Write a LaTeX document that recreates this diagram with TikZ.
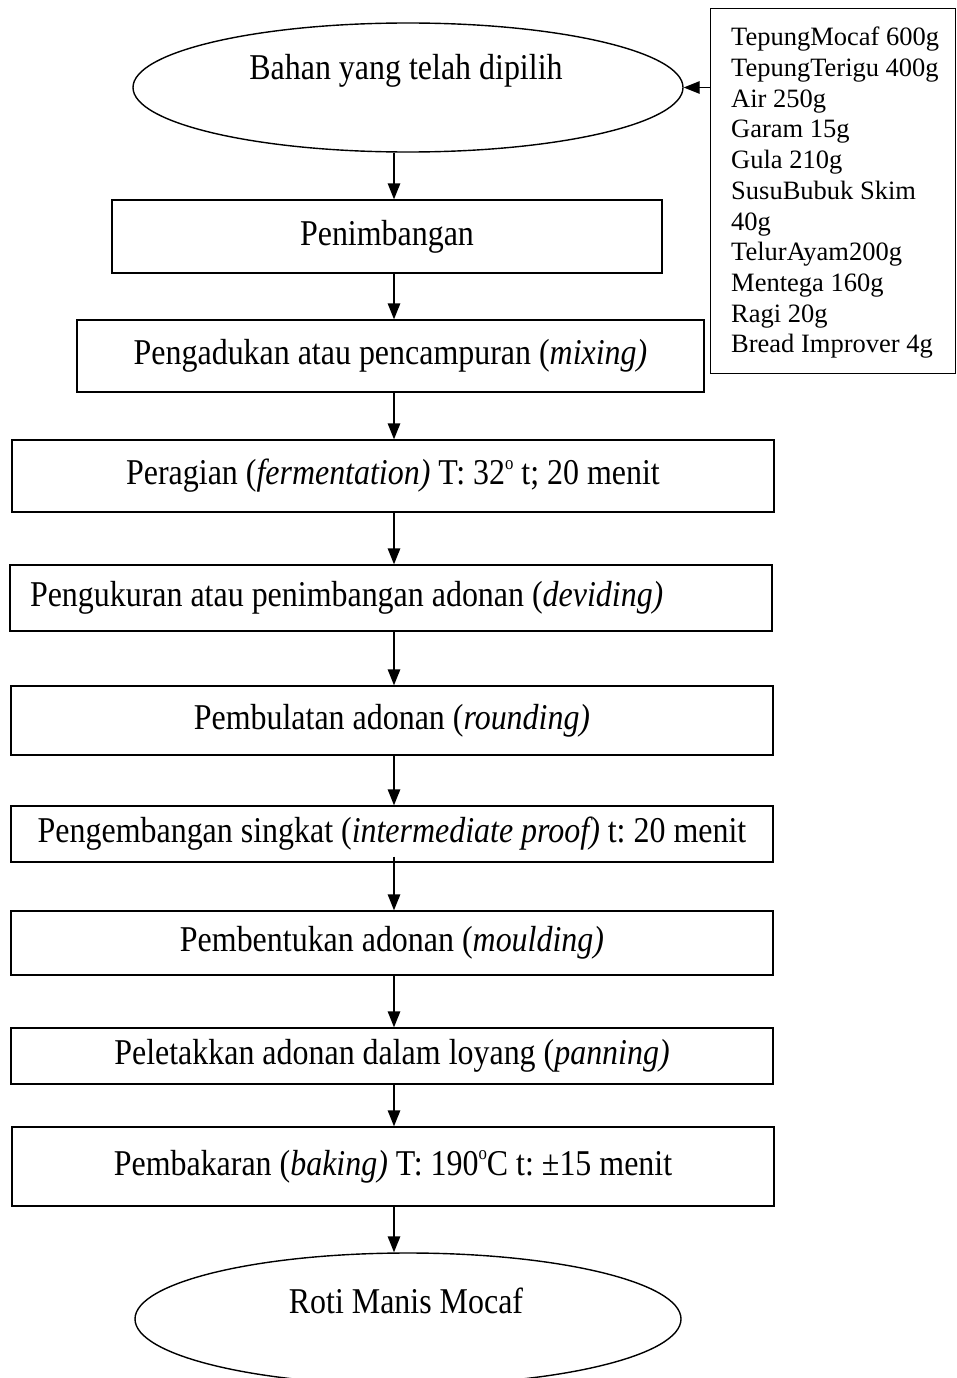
\documentclass[tikz,border=0pt]{standalone}
\usepackage{fontspec}
\setmainfont{Liberation Serif}
\newfontfamily\mainf{Liberation Serif}[FakeStretch=0.88]
\usetikzlibrary{arrows.meta,shapes.geometric}
\newcommand{\degsup}{\raisebox{0.95ex}{\fontsize{19}{19}\selectfont o}}
\begin{document}
\begin{tikzpicture}[x=1pt,y=-1pt,
  every node/.style={font=\mainf\fontsize{36.3}{40}\selectfont\frenchspacing},
  stepbox/.style={draw,line width=1.4pt,rectangle,inner sep=0pt},
  endell/.style={draw,line width=1.4pt,ellipse,inner sep=0pt},
  lbl/.style={inner sep=0pt},
  arr/.style={line width=1.4pt,-{Triangle[length=16pt,width=12.5pt]}},
]
\useasboundingbox (0,0) rectangle (956,1378);
\clip (0,0) rectangle (956,1378);
\coordinate (ax) at (394,0);

% start ellipse
\node[endell,minimum width=550,minimum height=129] (e1) at (408,87.5) {};
\node[lbl] (t1) at (406,71) {Bahan yang telah dipilih};

% ingredients
\node[stepbox,minimum width=245,minimum height=365,anchor=north west] (ing) at (710,8) {};
\node[lbl,anchor=north west,align=left,font=\rmfamily\fontsize{26.5}{30.7}\selectfont] (ingt) at (731,27)
 {TepungMocaf 600g\\TepungTerigu 400g\\Air 250g\\Garam 15g\\Gula 210g\\SusuBubuk Skim\\40g\\TelurAyam200g\\Mentega 160g\\Ragi 20g\\Bread Improver 4g};

% steps
\node[stepbox,minimum width=550,minimum height=73] (b1) at (387,236.5) {Penimbangan};
\node[stepbox,minimum width=627,minimum height=72] (b2) at (390.5,356) {Pengadukan atau pencampuran (\textit{mixing)}};
\node[stepbox,minimum width=762,minimum height=72] (b3) at (393,476) {Peragian (\textit{fermentation)} T: 32\degsup{} t; 20 menit};
\node[stepbox,minimum width=762,minimum height=66] (b4) at (391,598) {\makebox[722pt][l]{Pengukuran atau penimbangan adonan (\textit{deviding)}}};
\node[stepbox,minimum width=762,minimum height=69] (b5) at (392,720.5) {Pembulatan adonan (\textit{rounding)}};
\node[stepbox,minimum width=762,minimum height=56] (b6) at (392,834) {Pengembangan singkat (\textit{intermediate proof)} t: 20 menit};
\node[stepbox,minimum width=762,minimum height=64] (b7) at (392,943) {Pembentukan adonan (\textit{moulding)}};
\node[stepbox,minimum width=762,minimum height=56] (b8) at (392,1056) {Peletakkan adonan dalam loyang (\textit{panning)}};
\node[stepbox,minimum width=762,minimum height=79] (b9) at (393,1166.5) {Pembakaran (\textit{baking)} T: 190\degsup{}C t: ±15 menit};

% end ellipse
\node[endell,minimum width=546,minimum height=132] (e2) at (408,1319) {};
\node[lbl] (t2) at (406,1301) {Roti Manis Mocaf};

% connectors
\draw[arr] (ing.north west |- e1.east) -- (e1.east);
\draw[arr] (e1.south -| ax) -- (b1.north -| ax);
\draw[arr] (b1.south -| ax) -- (b2.north -| ax);
\draw[arr] (b2.south -| ax) -- (b3.north -| ax);
\draw[arr] (b3.south -| ax) -- (b4.north -| ax);
\draw[arr] (b4.south -| ax) -- (b5.north -| ax);
\draw[arr] (b5.south -| ax) -- (b6.north -| ax);
\draw[arr] ([yshift=6pt]b6.south -| ax) -- (b7.north -| ax);
\draw[arr] (b7.south -| ax) -- (b8.north -| ax);
\draw[arr] (b8.south -| ax) -- (b9.north -| ax);
\draw[arr] (b9.south -| ax) -- (e2.north -| ax);
\end{tikzpicture}
\end{document}
